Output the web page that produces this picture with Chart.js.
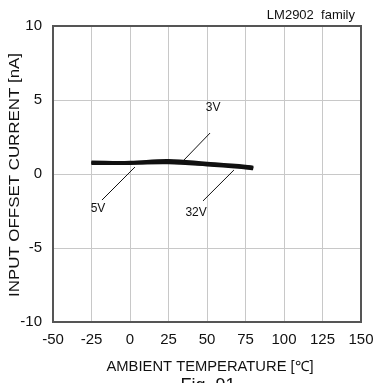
<!DOCTYPE html>
<html>
<head>
<meta charset="utf-8">
<script src="https://cdn.jsdelivr.net/npm/chart.js@4"></script>
<style>
  body { margin: 0; background: #fff; }
  #wrap { width: 374px; height: 383px; }
</style>
</head>
<body>
<div id="wrap"><canvas id="myChart" width="374" height="383"></canvas></div>
<script>
// data
const temps = [-25, 0, 25, 50, 75, 80];
const current3V = [0.75, 0.78, 0.90, 0.72, 0.52, 0.45];
const current5V = [0.80, 0.76, 0.80, 0.66, 0.48, 0.42];
const current32V = [0.72, 0.72, 0.76, 0.62, 0.42, 0.36];
const xTicks = [-50, -25, 0, 25, 50, 75, 100, 125, 150];
const yTicks = [-10, -5, 0, 5, 10];

// leader lines for the curve labels: [label, x1, y1, x2, y2, labelX, labelY]
const labels = [
    ["3V", 52, 2.77, 33.8, 0.81, 54, 4.46],
    ["5V", 3.2, 0.47, -18.2, -1.76, -20.8, -2.36],
    ["32V", 67.5, 0.27, 47.4, -1.82, 42.9, -2.64]
];

const FONT = "'Liberation Sans', Arial, sans-serif";

function toPoints(ys) {
    return temps.map((t, i) => ({ x: t, y: ys[i] }));
}

function lineSet(name, ys) {
    return {
        label: name,
        data: toPoints(ys),
        borderColor: "#111",
        borderWidth: 3.2,
        pointRadius: 0,
        tension: 0.4,
        fill: false
    };
}

// text stretched along its length to a given width, as in the scanned figure
function stretchText(ctx, text, x, y, width, angle) {
    const w = ctx.measureText(text).width;
    ctx.save();
    ctx.translate(x, y);
    ctx.rotate(angle);
    ctx.scale(width / w, 1);
    ctx.fillText(text, 0, 0);
    ctx.restore();
}

const extras = {
    id: "extras",
    afterDraw(chart) {
        const ctx = chart.ctx;
        const xs = chart.scales.x;
        const ys = chart.scales.y;
        const a = chart.chartArea;
        ctx.save();

        // frame
        ctx.strokeStyle = "#555";
        ctx.lineWidth = 2;
        ctx.strokeRect(a.left, a.top, a.right - a.left, a.bottom - a.top);

        // curve labels
        ctx.strokeStyle = "#111";
        ctx.lineWidth = 1;
        ctx.fillStyle = "#111";
        ctx.font = "12px " + FONT;
        ctx.textAlign = "center";
        ctx.textBaseline = "middle";
        labels.forEach(l => {
            ctx.beginPath();
            ctx.moveTo(xs.getPixelForValue(l[1]), ys.getPixelForValue(l[2]));
            ctx.lineTo(xs.getPixelForValue(l[3]), ys.getPixelForValue(l[4]));
            ctx.stroke();
            ctx.fillText(l[0], xs.getPixelForValue(l[5]), ys.getPixelForValue(l[6]));
        });

        // header
        ctx.font = "13px " + FONT;
        ctx.textAlign = "right";
        ctx.fillText("LM2902  family", 355, 15);

        // axis titles
        ctx.textAlign = "center";
        ctx.font = "14px " + FONT;
        stretchText(ctx, "AMBIENT TEMPERATURE [\u2103]", 210, 367, 207, 0);
        stretchText(ctx, "INPUT OFFSET CURRENT [nA]", 15, 175, 244, -Math.PI / 2);

        // caption, cut by the bottom edge
        ctx.font = "18px " + FONT;
        ctx.fillText("Fig. 91", 208, 386);
        ctx.restore();
    }
};

new Chart(document.getElementById("myChart"), {
    type: "line",
    data: {
        datasets: [
            lineSet("3V", current3V),
            lineSet("5V", current5V),
            lineSet("32V", current32V)
        ]
    },
    options: {
        responsive: false,
        animation: false,
        layout: { padding: { top: 26, right: 13, left: 0, bottom: 0 } },
        plugins: { legend: { display: false }, tooltip: { enabled: false } },
        scales: {
            x: {
                type: "linear",
                min: -50,
                max: 150,
                afterBuildTicks: s => { s.ticks = xTicks.map(v => ({ value: v })); },
                afterFit: s => { s.height = 61; s.paddingRight = 0; },
                grid: { color: "#c8c8c8", lineWidth: 1, drawTicks: false },
                border: { display: false },
                ticks: { color: "#111", font: { family: FONT, size: 15 }, padding: 9, maxRotation: 0 }
            },
            y: {
                min: -10,
                max: 10,
                afterBuildTicks: s => { s.ticks = yTicks.map(v => ({ value: v })); },
                afterFit: s => { s.width = 53; },
                grid: { color: "#c8c8c8", lineWidth: 1, drawTicks: false },
                border: { display: false },
                ticks: { color: "#111", font: { family: FONT, size: 15 }, padding: 11 }
            }
        }
    },
    plugins: [extras]
});
</script>
</body>
</html>
